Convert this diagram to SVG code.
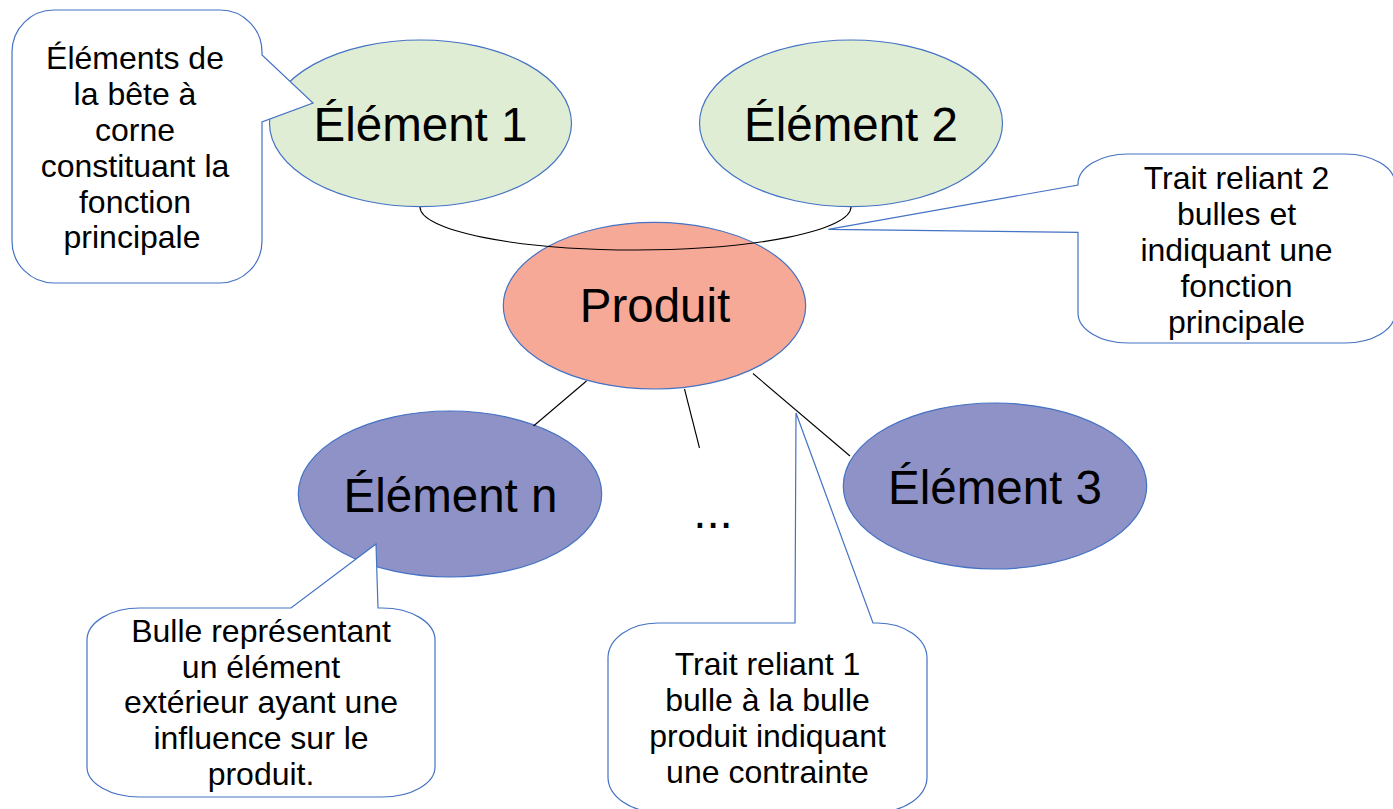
<svg xmlns="http://www.w3.org/2000/svg" width="1393" height="809" viewBox="0 0 1393 809">
<style>
  .node { stroke: #4472C4; stroke-width: 1.2; }
  .green { fill: #E0EDD5; }
  .red { fill: #F7A997; }
  .blue { fill: #8E92C6; }
  .call { fill: #FFFFFF; stroke: #4472C4; stroke-width: 1.2; stroke-linejoin: miter; }
  .big { font-family: "Liberation Sans", Arial, sans-serif; font-size: 47.5px; fill: #000; text-anchor: middle; }
  .small { font-family: "Liberation Sans", Arial, sans-serif; font-size: 32px; fill: #000; text-anchor: middle; }
  .conn { fill: none; stroke: #000; stroke-width: 1.1; }
</style>
<rect x="0" y="0" width="1393" height="809" fill="#FFFFFF"/>

<g id="element1">
  <ellipse class="node green" cx="420.5" cy="123.3" rx="151" ry="83.3"/>
  <text class="big" x="420.5" y="141">Élément 1</text>
</g>
<g id="element2">
  <ellipse class="node green" cx="851" cy="123.3" rx="151.5" ry="83.3"/>
  <text class="big" x="851" y="141">Élément 2</text>
</g>
<g id="produit">
  <ellipse class="node red" cx="654.5" cy="305.7" rx="151.2" ry="83.3"/>
  <text class="big" x="655" y="322">Produit</text>
</g>
<g id="elementn">
  <ellipse class="node blue" cx="450" cy="494" rx="151.7" ry="83"/>
  <text class="big" x="450.5" y="511.5">Élément n</text>
</g>
<g id="element3">
  <ellipse class="node blue" cx="995" cy="486" rx="151.7" ry="83"/>
  <text class="big" x="995" y="503.5">Élément 3</text>
</g>
<g id="ellipsis">
  <text class="big" x="713" y="528">...</text>
</g>

<g id="connectors">
  <path class="conn" d="M420,207 A215.5,43 0 0 0 851,207"/>
  <line class="conn" x1="586.5" y1="381" x2="533.5" y2="426"/>
  <line class="conn" x1="684.5" y1="389" x2="699.5" y2="448"/>
  <line class="conn" x1="753" y1="373.5" x2="850" y2="456"/>
</g>

<g id="callout1">
  <path class="call" d="M54,10 H220 A42,42 0 0 1 262,52 V55 L313,103 L262,122 V241 A42,42 0 0 1 220,283 H54 A42,42 0 0 1 12,241 V52 A42,42 0 0 1 54,10 Z"/>
  <text class="small" x="135" y="68.5">Éléments de</text>
  <text class="small" x="135" y="104.5">la bête à</text>
  <text class="small" x="135" y="140.5">corne</text>
  <text class="small" x="135" y="176.5">constituant la</text>
  <text class="small" x="135" y="212.5">fonction</text>
  <text class="small" x="132" y="248">principale</text>
</g>
<g id="callout2">
  <path class="call" d="M1128,154 H1345 A50,30 0 0 1 1395,184 V313 A50,30 0 0 1 1345,343 H1128 A50,30 0 0 1 1078,313 V232.3 L828.3,229.3 L1078,185 V184 A50,30 0 0 1 1128,154 Z"/>
  <text class="small" x="1236.5" y="189">Trait reliant 2</text>
  <text class="small" x="1236.5" y="225">bulles et</text>
  <text class="small" x="1236.5" y="261">indiquant une</text>
  <text class="small" x="1236.5" y="297">fonction</text>
  <text class="small" x="1236.5" y="333">principale</text>
</g>
<g id="callout3">
  <path class="call" d="M658,623 H795 L796,413 L873,623 H877 A50,35 0 0 1 927,658 V777 A50,35 0 0 1 877,812 H658 A50,35 0 0 1 608,777 V658 A50,35 0 0 1 658,623 Z"/>
  <text class="small" x="767.5" y="675">Trait reliant 1</text>
  <text class="small" x="767.5" y="711">bulle à la bulle</text>
  <text class="small" x="767.5" y="747">produit indiquant</text>
  <text class="small" x="767.5" y="783">une contrainte</text>
</g>
<g id="callout4">
  <path class="call" d="M140,608 H291 L376,544 L378,608 H382 A53,32 0 0 1 435,640 V767 A53,30 0 0 1 382,797 H140 A53,30 0 0 1 87,767 V640 A53,32 0 0 1 140,608 Z"/>
  <text class="small" x="261" y="642">Bulle représentant</text>
  <text class="small" x="261" y="677.5">un élément</text>
  <text class="small" x="261" y="713">extérieur ayant une</text>
  <text class="small" x="261" y="749">influence sur le</text>
  <text class="small" x="261" y="785">produit.</text>
</g>
</svg>
